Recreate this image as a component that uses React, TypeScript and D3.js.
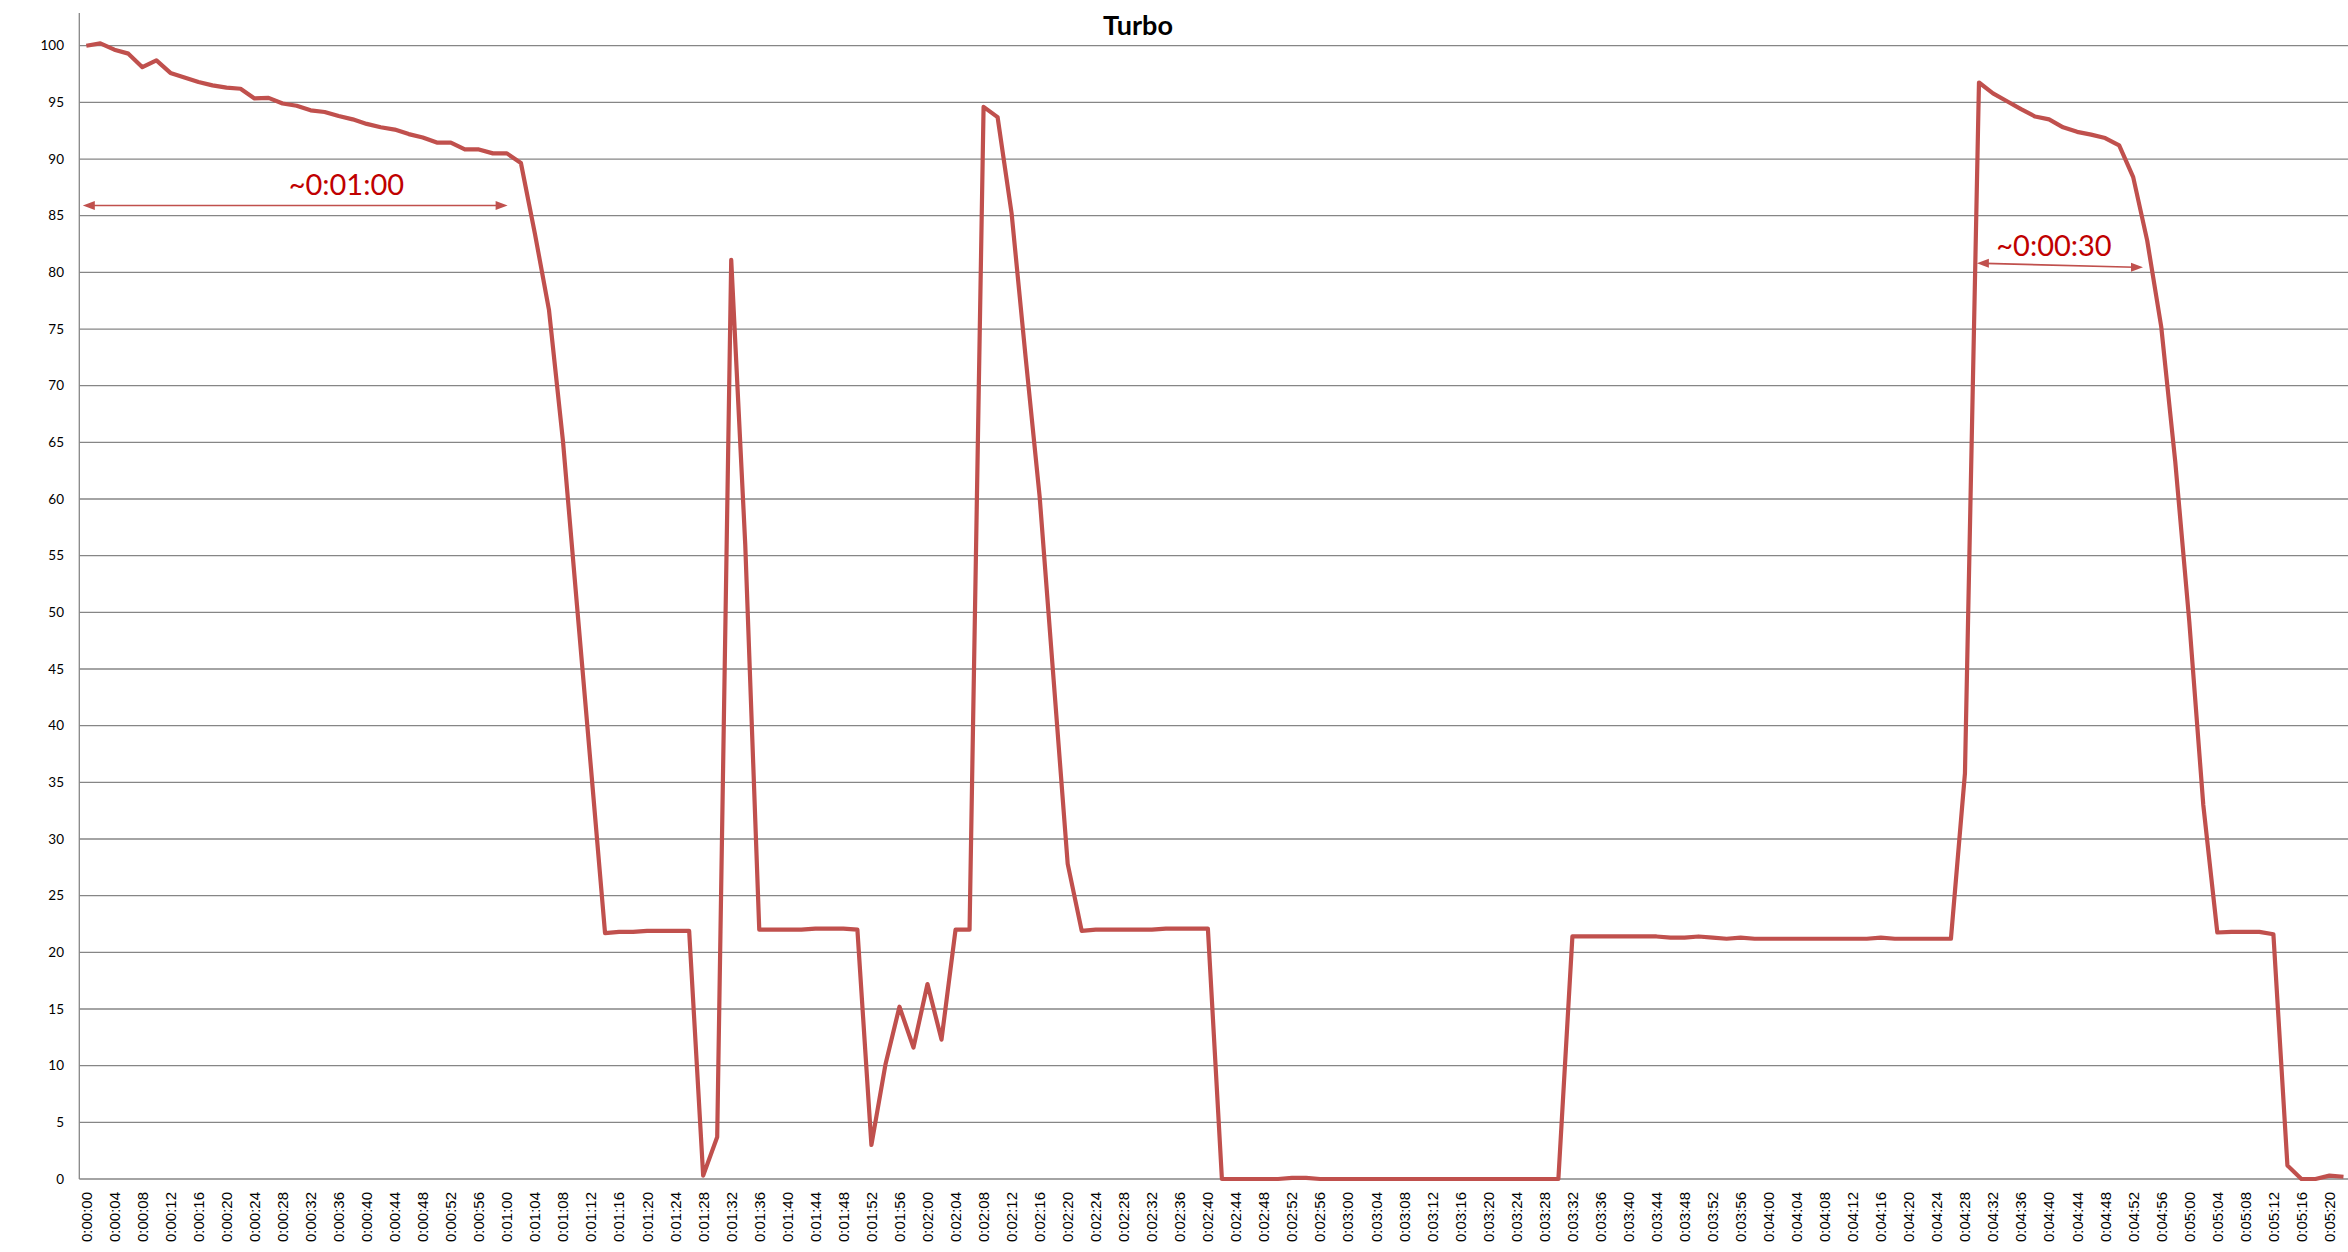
import React from "react";
import * as d3 from "d3";

const W = 2348;
const H = 1252;

// time categories: one sample every 2 seconds, 0:00:00 .. 0:05:22
const categorySeconds: number[] = d3.range(0, 324, 2);
const fmtTime = (s: number) => {
  const m = Math.floor(s / 60);
  const sec = s % 60;
  return `0:${String(m).padStart(2, "0")}:${String(sec).padStart(2, "0")}`;
};
const categories: string[] = categorySeconds.map(fmtTime);

const turboStart: number[] = [100.0, 100.2, 99.65, 99.3, 98.1, 98.7, 97.6, 97.2, 96.8, 96.5, 96.3, 96.2];
const turboDecay: number[] = [95.35, 95.4, 94.9, 94.7, 94.3, 94.15, 93.8, 93.5, 93.1, 92.8, 92.6, 92.2, 91.9, 91.45, 91.45, 90.85, 90.85, 90.5, 90.5, 89.65];
const turboDrop1: number[] = [83.4, 76.7, 65.1, 50.6, 36.2];
const turboIdle1: number[] = [21.7, 21.8, 21.8, 21.9, 21.9, 21.9, 21.9];
const turboSpike1: number[] = [0.3, 3.7, 81.1, 56];
const turboIdle2: number[] = [22.0, 22.0, 22.0, 22.0, 22.1, 22.1, 22.1, 22.0];
const turboWobble: number[] = [3.0, 10.1, 15.2, 11.6, 17.2, 12.3, 22.0, 22.0];
const turboSpike2: number[] = [94.6, 93.7, 85.2, 72.5, 60.2, 44.0, 27.8];
const turboIdle3: number[] = [21.9, 22.0, 22.0, 22.0, 22.0, 22.0, 22.1, 22.1, 22.1, 22.1];
const turboOff: number[] = [0, 0, 0, 0, 0, 0.1, 0.1, 0, 0, 0, 0, 0, 0, 0, 0, 0, 0, 0, 0, 0, 0, 0, 0, 0, 0];
const turboIdle4: number[] = [21.4, 21.4, 21.4, 21.4, 21.4, 21.4, 21.4, 21.3, 21.3, 21.4, 21.3, 21.2, 21.3, 21.2, 21.2, 21.2, 21.2, 21.2, 21.2, 21.2, 21.2, 21.2, 21.3, 21.2, 21.2, 21.2, 21.2, 21.2];
const turboBoost: number[] = [35.8, 96.75, 95.8, 95.1, 94.4, 93.75, 93.5, 92.8, 92.4, 92.15, 91.85, 91.2, 88.4, 82.8, 75.2, 63.3, 49.2, 33.0];
const turboIdle5: number[] = [21.75, 21.8, 21.8, 21.8, 21.6];
const turboEnd: number[] = [1.2, 0.0, 0.0, 0.3, 0.2];

const turbo: number[] = [
  ...turboStart, ...turboDecay, ...turboDrop1, ...turboIdle1, ...turboSpike1,
  ...turboIdle2, ...turboWobble, ...turboSpike2, ...turboIdle3, ...turboOff,
  ...turboIdle4, ...turboBoost, ...turboIdle5, ...turboEnd,
];

const yTicks: number[] = d3.range(0, 105, 5);

// annotation arrows: times in seconds, values in turbo units
const annotationLabels: string[] = ["~0:01:00", "~0:00:30"];
const annotationFromSec: number[] = [-0.5, 269.7];
const annotationToSec: number[] = [60.1, 293.4];
const annotationFromVal: number[] = [85.9, 80.8];
const annotationToVal: number[] = [85.9, 80.45];
const annotationTextSec: number[] = [37.1, 280.7];
const annotationTextVal: number[] = [86.8, 81.4];

export default function App() {
  const left = 79.3;
  const right = 2350.5;
  const top0 = 45.7;
  const bottom = 1179;

  const x = d3.scaleBand<string>().domain(categories).range([left, right]).paddingInner(0).paddingOuter(0);
  const cx = (c: string) => (x(c) as number) + x.bandwidth() / 2;
  const step = x.step();
  const tx = d3.scaleLinear().domain([0, 2]).range([cx(categories[0]), cx(categories[0]) + step]);
  const y = d3.scaleLinear().domain([0, 100]).range([bottom, top0]);

  const line = d3
    .line<number>()
    .x((_, i) => cx(categories[i]))
    .y((d) => y(d));

  const red = "#C0504D";
  const grid = "#868686";

  const arrowHead = (xt: number, yt: number, dir: number) => {
    const L = 12, hw = 4.5;
    return `M${xt},${yt} L${xt - dir * L},${yt - hw} L${xt - dir * L},${yt + hw} Z`;
  };

  return (
    <svg
      width={W}
      height={H}
      style={{ position: "absolute", left: 0, top: 0, background: "#fff" }}
      xmlns="http://www.w3.org/2000/svg"
    >
      <rect x={0} y={0} width={W} height={H} fill="#fff" />
      <text
        x={1138}
        y={35}
        textAnchor="middle"
        fontFamily="Lato, 'Open Sans', sans-serif"
        fontWeight={700}
        fontSize={27}
        fill="#000"
      >
        Turbo
      </text>

      {/* grid lines */}
      {yTicks.map((t) => (
        <line key={t} x1={left} x2={W} y1={y(t)} y2={y(t)} stroke={grid} strokeWidth={1.3} />
      ))}
      {/* y axis line */}
      <line x1={left} x2={left} y1={13} y2={bottom} stroke={grid} strokeWidth={1.3} />

      {/* y tick labels */}
      {yTicks.map((t) => (
        <text
          key={"yl" + t}
          x={64}
          y={y(t)}
          dy="0.35em"
          textAnchor="end"
          fontFamily="Lato, 'Open Sans', sans-serif"
          fontSize={13.5}
          fill="#000"
        >
          {t}
        </text>
      ))}

      {/* x tick labels */}
      {categories.map((c, i) =>
        i % 2 === 0 ? (
          <text
            key={"xl" + c}
            transform={`translate(${cx(c)},1192) rotate(-90)`}
            textAnchor="end"
            dy="0.36em"
            fontFamily="'Liberation Sans', Arial, sans-serif"
            fontSize={15}
            fill="#000"
          >
            {c}
          </text>
        ) : null
      )}

      {/* data line */}
      <path d={line(turbo) || ""} fill="none" stroke={red} strokeWidth={4.2} strokeLinejoin="round" />

      {/* annotations */}
      {annotationLabels.map((label, k) => {
        const x1 = tx(annotationFromSec[k]);
        const x2 = tx(annotationToSec[k]);
        const y1 = y(annotationFromVal[k]);
        const y2 = y(annotationToVal[k]);
        return (
          <g key={label}>
            <line x1={x1 + 8} y1={y1} x2={x2 - 8} y2={y2} stroke={red} strokeWidth={1.7} />
            <path d={arrowHead(x1, y1, -1)} fill={red} />
            <path d={arrowHead(x2, y2, 1)} fill={red} />
            <text
              x={tx(annotationTextSec[k])}
              y={y(annotationTextVal[k])}
              textAnchor="middle"
              fontFamily="Lato, 'Open Sans', sans-serif"
              fontSize={29}
              fill="#C00000"
            >
              {label}
            </text>
          </g>
        );
      })}
    </svg>
  );
}
